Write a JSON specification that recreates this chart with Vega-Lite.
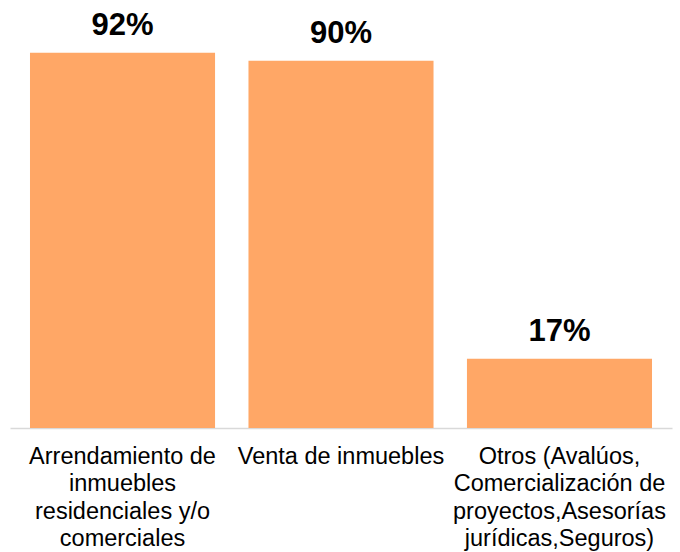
{
  "$schema": "https://vega.github.io/schema/vega-lite/v6.json",
  "autosize": "none",
  "width": 662,
  "height": 408,
  "padding": {"left": 10, "top": 20, "right": 8, "bottom": 124},
  "background": "white",
  "config": {"view": {"stroke": null}, "font": "Liberation Sans"},
  "data": {
    "values": [
      {"cat": "Arrendamiento de|inmuebles|residenciales y/o|comerciales", "pct": 0.92},
      {"cat": "Venta de inmuebles", "pct": 0.90},
      {"cat": "Otros (Avalúos,|Comercialización de|proyectos,Asesorías|jurídicas,Seguros)", "pct": 0.17}
    ]
  },
  "encoding": {
    "x": {
      "field": "cat", "type": "nominal", "sort": null,
      "scale": {"paddingInner": 0.153, "paddingOuter": 0.0915},
      "axis": {
        "title": null, "labelAngle": 0, "ticks": false,
        "domainColor": "#D9D9D9", "domainWidth": 1.5,
        "labelFontSize": 23.5, "labelLineHeight": 27.5, "labelColor": "#000000",
        "labelPadding": 16, "labelLimit": 0,
        "labelExpr": "split(datum.label, '|')"
      }
    },
    "y": {
      "field": "pct", "type": "quantitative",
      "scale": {"domain": [0, 1]},
      "axis": null
    }
  },
  "layer": [
    {"mark": {"type": "bar", "color": "#FFA766"}},
    {
      "mark": {"type": "text", "baseline": "alphabetic", "dy": -18, "fontSize": 31, "fontWeight": "bold", "color": "#000000"},
      "encoding": {"text": {"field": "pct", "type": "quantitative", "format": ".0%"}}
    }
  ]
}
